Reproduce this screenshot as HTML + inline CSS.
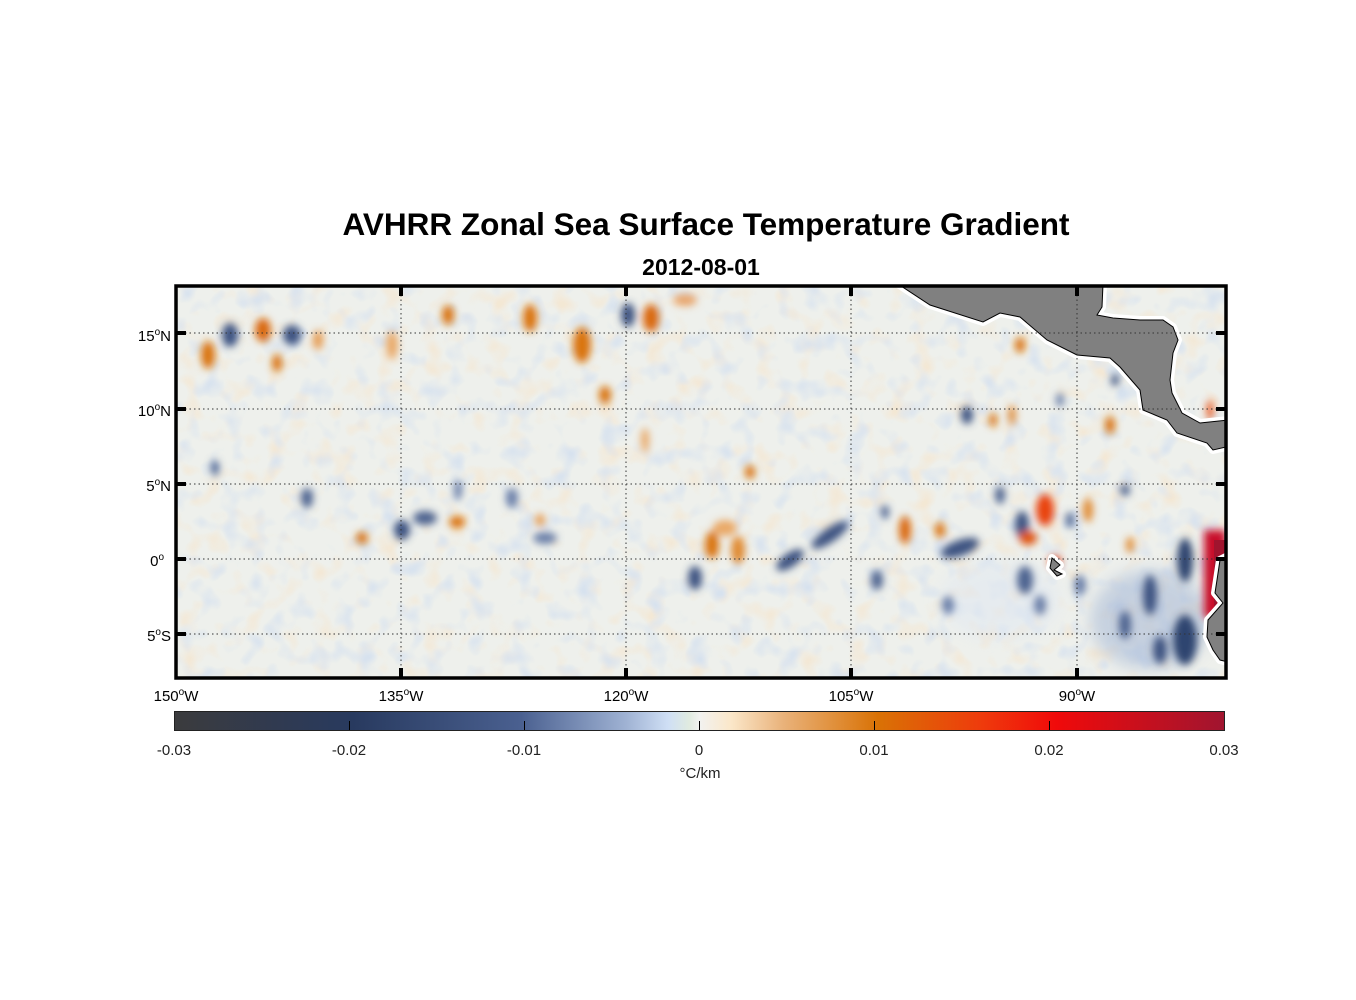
<!DOCTYPE html>
<html><head><meta charset="utf-8"><style>
body{margin:0;background:#fff;}
svg{display:block;}
text{font-family:"Liberation Sans",Arial,sans-serif;}
</style></head><body>
<svg width="1356" height="1000" viewBox="0 0 1356 1000" xmlns="http://www.w3.org/2000/svg">
<defs>
<filter id="b" x="-50%" y="-50%" width="200%" height="200%"><feGaussianBlur stdDeviation="4"/></filter>
<filter id="b2" x="-50%" y="-50%" width="200%" height="200%"><feGaussianBlur stdDeviation="8"/></filter>
<filter id="tex" x="0" y="0" width="100%" height="100%">
<feTurbulence type="fractalNoise" baseFrequency="0.045" numOctaves="2" seed="7" result="n"/>
<feColorMatrix in="n" type="matrix" values="0 0 0 0 0.92  0 0 0 0 0.78  0 0 0 0 0.6  3 0 0 0 -1.55" result="o"/>
<feColorMatrix in="n" type="matrix" values="0 0 0 0 0.62  0 0 0 0 0.72  0 0 0 0 0.87  0 0 -3 0 1.45" result="bl"/>
<feMerge><feMergeNode in="o"/><feMergeNode in="bl"/></feMerge>
</filter>
<clipPath id="c"><rect x="176" y="286" width="1050" height="392"/></clipPath>
<linearGradient id="cb" x1="0" x2="1">
<stop offset="0" stop-color="#3b3b3d"/>
<stop offset="0.17" stop-color="#283a5f"/>
<stop offset="0.33" stop-color="#4a6090"/>
<stop offset="0.43" stop-color="#9fb2d3"/>
<stop offset="0.47" stop-color="#cfdff5"/>
<stop offset="0.49" stop-color="#e0ebe0"/>
<stop offset="0.5" stop-color="#f2f2f0"/>
<stop offset="0.53" stop-color="#fbe7c9"/>
<stop offset="0.58" stop-color="#e9b27a"/>
<stop offset="0.67" stop-color="#d97205"/>
<stop offset="0.77" stop-color="#ef3a0c"/>
<stop offset="0.84" stop-color="#f00a0a"/>
<stop offset="1" stop-color="#a01530"/>
</linearGradient>
</defs>
<text x="706" y="235" font-size="31.5" font-weight="bold" text-anchor="middle">AVHRR Zonal Sea Surface Temperature Gradient</text>
<text x="701" y="275" font-size="23" font-weight="bold" text-anchor="middle">2012-08-01</text>
<g clip-path="url(#c)">
<rect x="176" y="286" width="1050" height="392" fill="#eef0ec"/>
<rect x="176" y="286" width="1050" height="392" filter="url(#tex)" opacity="0.7"/>
<g filter="url(#b2)" opacity="0.5">
<ellipse cx="1150" cy="620" rx="60" ry="50" fill="#9fb2d3"/>
<ellipse cx="1000" cy="600" rx="60" ry="40" fill="#dfe7f2"/>
</g>
<g filter="url(#b)">
<ellipse cx="208" cy="355" rx="7" ry="14" fill="#d9730f"/>
<ellipse cx="230" cy="335" rx="8" ry="12" fill="#3e5281"/>
<ellipse cx="263" cy="330" rx="8" ry="12" fill="#d9670a"/>
<ellipse cx="292" cy="335" rx="9" ry="10" fill="#3e5281"/>
<ellipse cx="277" cy="363" rx="5" ry="9" fill="#d9730f"/>
<ellipse cx="318" cy="340" rx="5" ry="10" fill="#e59a50"/>
<ellipse cx="392" cy="345" rx="6" ry="14" fill="#e9a866"/>
<ellipse cx="448" cy="315" rx="6" ry="10" fill="#d9730f"/>
<ellipse cx="530" cy="318" rx="7" ry="14" fill="#d9730f"/>
<ellipse cx="582" cy="345" rx="9" ry="18" fill="#d9730f"/>
<ellipse cx="605" cy="395" rx="6" ry="9" fill="#d9730f"/>
<ellipse cx="628" cy="315" rx="7" ry="12" fill="#3e5281"/>
<ellipse cx="651" cy="318" rx="8" ry="14" fill="#d9670a"/>
<ellipse cx="685" cy="300" rx="12" ry="6" fill="#eaa66a"/>
<ellipse cx="645" cy="440" rx="4" ry="12" fill="#e9a866"/>
<ellipse cx="750" cy="472" rx="5" ry="7" fill="#d9730f"/>
<ellipse cx="307" cy="498" rx="6" ry="10" fill="#4e6390"/>
<ellipse cx="215" cy="468" rx="4" ry="8" fill="#4e6390"/>
<ellipse cx="362" cy="538" rx="6" ry="6" fill="#d9730f"/>
<ellipse cx="402" cy="530" rx="8" ry="10" fill="#3e5281"/>
<ellipse cx="425" cy="518" rx="12" ry="7" fill="#4e6390"/>
<ellipse cx="457" cy="522" rx="8" ry="6" fill="#d9730f"/>
<ellipse cx="458" cy="490" rx="4" ry="10" fill="#6a7fa8"/>
<ellipse cx="512" cy="498" rx="6" ry="10" fill="#6a7fa8"/>
<ellipse cx="545" cy="538" rx="12" ry="6" fill="#6a7fa8"/>
<ellipse cx="540" cy="520" rx="5" ry="6" fill="#e59a50"/>
<ellipse cx="712" cy="545" rx="7" ry="14" fill="#d9730f"/>
<ellipse cx="738" cy="550" rx="7" ry="14" fill="#e08a30"/>
<ellipse cx="725" cy="528" rx="12" ry="8" fill="#e9a866"/>
<ellipse cx="695" cy="578" rx="7" ry="12" fill="#3e5281"/>
<ellipse cx="790" cy="560" rx="16" ry="7" fill="#3e5281" transform="rotate(-35 790 560)"/>
<ellipse cx="830" cy="535" rx="22" ry="7" fill="#3e5281" transform="rotate(-35 830 535)"/>
<ellipse cx="877" cy="580" rx="6" ry="10" fill="#4e6390"/>
<ellipse cx="885" cy="512" rx="4" ry="7" fill="#4e6390"/>
<ellipse cx="905" cy="530" rx="6" ry="14" fill="#d9670a"/>
<ellipse cx="960" cy="548" rx="20" ry="8" fill="#3e5281" transform="rotate(-20 960 548)"/>
<ellipse cx="940" cy="530" rx="5" ry="8" fill="#d9730f"/>
<ellipse cx="967" cy="415" rx="6" ry="9" fill="#3e5281"/>
<ellipse cx="993" cy="420" rx="4" ry="7" fill="#d9730f"/>
<ellipse cx="1020" cy="345" rx="5" ry="8" fill="#d9730f"/>
<ellipse cx="1012" cy="415" rx="4" ry="10" fill="#e09040"/>
<ellipse cx="1000" cy="495" rx="5" ry="9" fill="#4e6390"/>
<ellipse cx="1022" cy="525" rx="7" ry="14" fill="#3e5281"/>
<ellipse cx="1045" cy="510" rx="9" ry="16" fill="#e8420a"/>
<ellipse cx="1028" cy="538" rx="9" ry="7" fill="#e0550a"/>
<ellipse cx="1055" cy="562" rx="6" ry="6" fill="#e8320a"/>
<ellipse cx="1070" cy="520" rx="4" ry="8" fill="#4e6390"/>
<ellipse cx="1088" cy="510" rx="5" ry="12" fill="#e08a30"/>
<ellipse cx="1110" cy="425" rx="5" ry="9" fill="#d9730f"/>
<ellipse cx="1115" cy="380" rx="4" ry="6" fill="#3e5281"/>
<ellipse cx="1130" cy="545" rx="4" ry="8" fill="#e08a30"/>
<ellipse cx="1125" cy="490" rx="5" ry="6" fill="#4e6390"/>
<ellipse cx="1025" cy="580" rx="8" ry="14" fill="#4e6390"/>
<ellipse cx="1080" cy="585" rx="6" ry="10" fill="#6a7fa8"/>
<ellipse cx="1040" cy="605" rx="6" ry="10" fill="#6a7fa8"/>
<ellipse cx="1125" cy="625" rx="6" ry="14" fill="#4e6390"/>
<ellipse cx="1150" cy="595" rx="7" ry="20" fill="#3e5281"/>
<ellipse cx="1185" cy="560" rx="8" ry="22" fill="#2f4470"/>
<ellipse cx="1185" cy="640" rx="12" ry="25" fill="#2f4470"/>
<ellipse cx="1160" cy="650" rx="7" ry="14" fill="#3e5281"/>
<ellipse cx="1210" cy="410" rx="3" ry="10" fill="#e8420a"/>
<ellipse cx="948" cy="605" rx="6" ry="9" fill="#6a7fa8"/>
<ellipse cx="1060" cy="400" rx="4" ry="7" fill="#6a7fa8"/>
</g>
<rect x="1204" y="530" width="22" height="88" fill="#c8102a" filter="url(#b)"/>
<rect x="1214" y="540" width="12" height="70" fill="#a0142e"/>
<g fill="#fff" stroke="#fff" stroke-width="8" stroke-linejoin="round">
<path d="M898,284 L930,305 L983,322 L1000,313 L1020,317 L1047,340 L1077,355 L1110,358 L1120,367 L1140,390 L1143,410 L1167,420 L1177,433 L1207,443 L1213,450 L1226,447 L1228,420 L1200,423 L1182,413 L1172,393 L1170,380 L1173,353 L1178,340 L1173,327 L1163,320 L1140,320 L1113,318 L1097,315 L1102,307 L1103,284 Z"/>
<path d="M1228,556 L1220,560 L1217,580 L1215,593 L1223,603 L1208,620 L1207,637 L1213,650 L1220,660 L1228,662 Z"/>
<path d="M1052,558 L1060,565 L1054,570 L1062,574 L1057,576 L1050,568 Z"/>
</g>
<g fill="#808080" stroke="#000" stroke-width="1">
<path d="M898,284 L930,305 L983,322 L1000,313 L1020,317 L1047,340 L1077,355 L1110,358 L1120,367 L1140,390 L1143,410 L1167,420 L1177,433 L1207,443 L1213,450 L1226,447 L1228,420 L1200,423 L1182,413 L1172,393 L1170,380 L1173,353 L1178,340 L1173,327 L1163,320 L1140,320 L1113,318 L1097,315 L1102,307 L1103,284 Z"/>
<path d="M1228,556 L1220,560 L1217,580 L1215,593 L1223,603 L1208,620 L1207,637 L1213,650 L1220,660 L1228,662 Z"/>
<path d="M1052,558 L1060,565 L1054,570 L1062,574 L1057,576 L1050,568 Z"/>
</g>
</g>
<g stroke="#333" stroke-width="1" stroke-dasharray="1.5,3">
<line x1="401" y1="286" x2="401" y2="678"/><line x1="626" y1="286" x2="626" y2="678"/>
<line x1="851" y1="286" x2="851" y2="678"/><line x1="1077" y1="286" x2="1077" y2="678"/>
<line x1="176" y1="333" x2="1226" y2="333"/><line x1="176" y1="409" x2="1226" y2="409"/>
<line x1="176" y1="484" x2="1226" y2="484"/><line x1="176" y1="559" x2="1226" y2="559"/>
<line x1="176" y1="634" x2="1226" y2="634"/>
</g>
<rect x="176" y="286" width="1050" height="392" fill="none" stroke="#000" stroke-width="3.5"/>
<g stroke="#000" stroke-width="4">
<line x1="401" y1="286" x2="401" y2="296"/><line x1="626" y1="286" x2="626" y2="296"/><line x1="851" y1="286" x2="851" y2="296"/><line x1="1077" y1="286" x2="1077" y2="296"/>
<line x1="401" y1="678" x2="401" y2="668"/><line x1="626" y1="678" x2="626" y2="668"/><line x1="851" y1="678" x2="851" y2="668"/><line x1="1077" y1="678" x2="1077" y2="668"/>
<line x1="176" y1="333" x2="186" y2="333"/><line x1="176" y1="409" x2="186" y2="409"/><line x1="176" y1="484" x2="186" y2="484"/><line x1="176" y1="559" x2="186" y2="559"/><line x1="176" y1="634" x2="186" y2="634"/>
<line x1="1226" y1="333" x2="1216" y2="333"/><line x1="1226" y1="409" x2="1216" y2="409"/><line x1="1226" y1="484" x2="1216" y2="484"/><line x1="1226" y1="559" x2="1216" y2="559"/><line x1="1226" y1="634" x2="1216" y2="634"/>
</g>
<g font-size="15" text-anchor="end">
<text x="171" y="341">15<tspan dy="-6" font-size="10">o</tspan><tspan dy="6">N</tspan></text>
<text x="171" y="416">10<tspan dy="-6" font-size="10">o</tspan><tspan dy="6">N</tspan></text>
<text x="171" y="491">5<tspan dy="-6" font-size="10">o</tspan><tspan dy="6">N</tspan></text>
<text x="164" y="566">0<tspan dy="-6" font-size="10">o</tspan></text>
<text x="171" y="641">5<tspan dy="-6" font-size="10">o</tspan><tspan dy="6">S</tspan></text>
</g>
<g font-size="15" text-anchor="middle">
<text x="176" y="701">150<tspan dy="-6" font-size="10">o</tspan><tspan dy="6">W</tspan></text>
<text x="401" y="701">135<tspan dy="-6" font-size="10">o</tspan><tspan dy="6">W</tspan></text>
<text x="626" y="701">120<tspan dy="-6" font-size="10">o</tspan><tspan dy="6">W</tspan></text>
<text x="851" y="701">105<tspan dy="-6" font-size="10">o</tspan><tspan dy="6">W</tspan></text>
<text x="1077" y="701">90<tspan dy="-6" font-size="10">o</tspan><tspan dy="6">W</tspan></text>
</g>
<rect x="174.5" y="711.5" width="1050" height="19" fill="url(#cb)" stroke="#222" stroke-width="1"/>
<g stroke="#000" stroke-width="1">
<line x1="349.5" y1="730" x2="349.5" y2="721"/><line x1="524.5" y1="730" x2="524.5" y2="721"/><line x1="699.5" y1="730" x2="699.5" y2="721"/><line x1="874.5" y1="730" x2="874.5" y2="721"/><line x1="1049.5" y1="730" x2="1049.5" y2="721"/>
</g>
<g font-size="15" text-anchor="middle" fill="#222">
<text x="174" y="755">-0.03</text><text x="349" y="755">-0.02</text><text x="524" y="755">-0.01</text><text x="699" y="755">0</text><text x="874" y="755">0.01</text><text x="1049" y="755">0.02</text><text x="1224" y="755">0.03</text>
<text x="700" y="778">°C/km</text>
</g>
</svg>
</body></html>
